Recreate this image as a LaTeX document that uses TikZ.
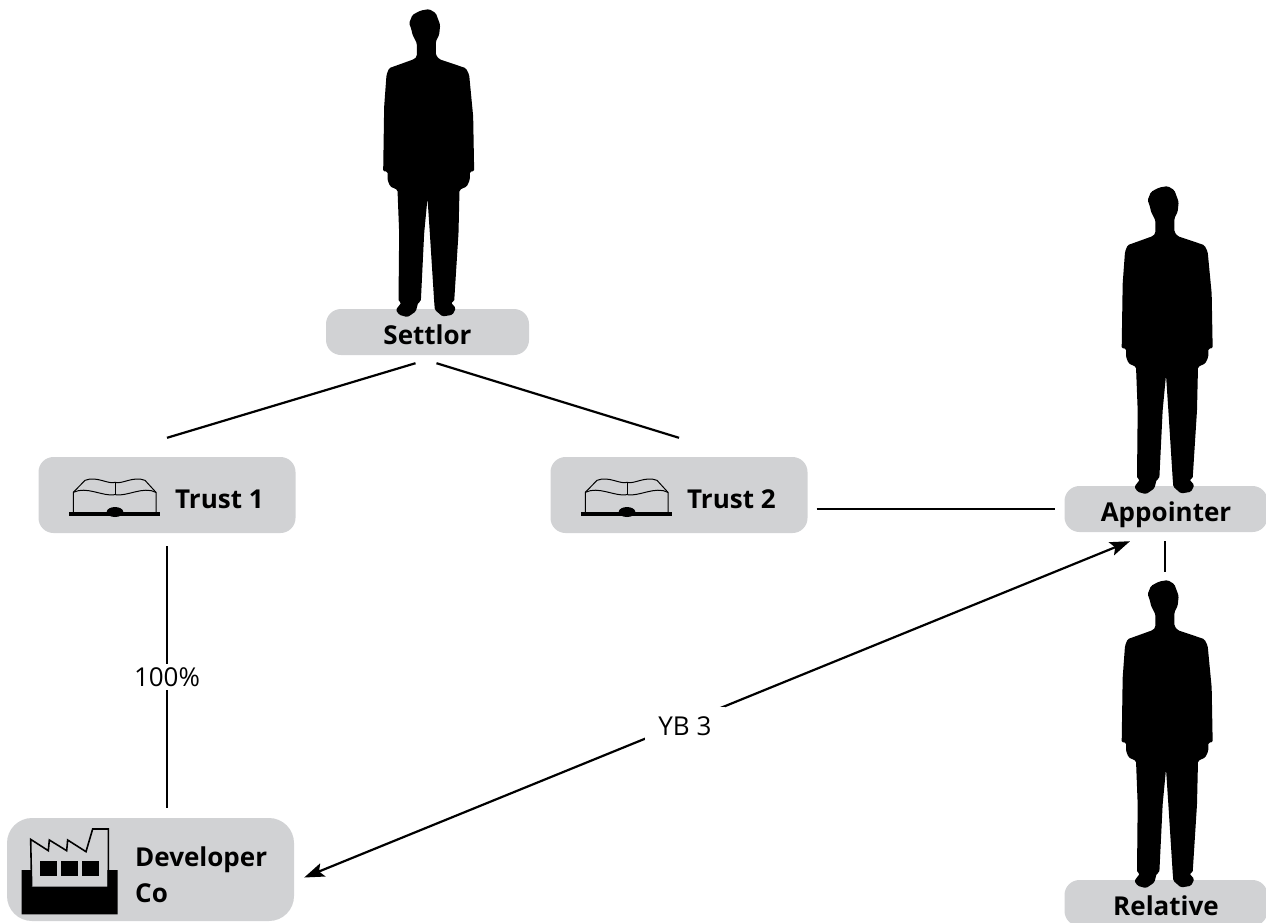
\documentclass[tikz,border=0pt]{standalone}
\usepackage{fontspec}
\setmainfont{Open Sans}
\usetikzlibrary{arrows.meta}
\definecolor{tagfill}{RGB}{209,210,212}
\tikzstyle{tag} = [fill=tagfill, rounded corners=15pt, inner sep=0pt, minimum width=203pt, minimum height=46pt, text height=24pt, text depth=0pt, font={\fontsize{26}{30}\selectfont\bfseries}]
\tikzstyle{bigtag} = [tag, minimum width=257pt, minimum height=76pt]
\tikzstyle{tagtext} = [inner sep=0pt, anchor=west, align=left, font={\fontsize{26}{36}\selectfont\bfseries}]
\tikzstyle{link} = [draw=black, line width=2.2pt]
\tikzstyle{note} = [fill=white, inner sep=3pt, font={\fontsize{26}{30}\selectfont}]
\tikzset{
  person/.pic={
    \fill[shift={(-200,-927)}, rounded corners=1.5pt] (168,170) -- (160,178) -- (85,205) -- (77,225) -- (70,320) -- (67,515)
      -- (80,515) -- (80,540) -- (88,560) -- (110,570) -- (115,700) -- (113,905) -- (122,908) -- (105,930) -- (115,945)
      -- (140,952) -- (165,935) -- (172,908) -- (180,905) -- (190,700) -- (200,595) -- (207,700) -- (220,905) -- (222,930)
      -- (245,950) -- (275,945) -- (285,925) -- (270,908) -- (280,905) -- (293,700) -- (296,570) -- (318,560) -- (327,540)
      -- (327,515) -- (340,515) -- (337,350) -- (325,225) -- (315,205) -- (235,178) -- (225,165) -- (225,125) -- (235,105)
      -- (238,75) -- (225,40) -- (205,28) -- (180,32) -- (155,45) -- (145,70) -- (152,90) -- (155,105) -- (168,130) -- cycle;
  },
  book/.pic={
    \begin{scope}[shift={(-255,-145)}, line width=1pt]
      \draw (130,188) -- (130,128) -- (165,92) .. controls (200,78) and (235,105) .. (255,98)
        .. controls (275,105) and (310,78) .. (345,92) -- (378,128) -- (378,188);
      \draw (130,128) .. controls (170,108) and (220,142) .. (255,135) .. controls (290,142) and (340,108) .. (378,128);
      \draw (255,98) -- (255,135);
      \fill (118,188) rectangle (390,198);
      \fill (255,187) ellipse (25 and 15);
    \end{scope}
  },
  factory/.pic={
    \fill (65,180) -- (95,180) -- (95,230) -- (322,230) -- (322,180) -- (353,180) -- (353,313) -- (65,313) -- cycle;
    \draw[line width=1.6pt] (95,230) -- (92,88) -- (145,122) -- (148,90) -- (200,122) -- (203,90) -- (258,125)
      -- (278,57) -- (325,57) -- (325,230);
    \fill (120,152) rectangle (170,198);
    \fill (183,152) rectangle (233,198);
    \fill (247,152) rectangle (297,198);
  }
}
\begin{document}
\begin{tikzpicture}[x=1pt,y=-1pt]
  \useasboundingbox (0,0) rectangle (1266,922);
  \node[tag](settlor) at (427.5,332){Settlor};
  \node[bigtag](trust1) at (167,495){};
  \node[bigtag](trust2) at (679,495){};
  \node[tag](appointer) at (1166,509){Appointer};
  \node[tag](relative) at (1166,903){Relative};
  \node[bigtag,minimum width=287pt,minimum height=103pt,rounded corners=25pt](developer) at (150.5,869.5){};
  \node[tagtext](trust1text) at (175,499){Trust 1};
  \node[tagtext](trust2text) at (687,499){Trust 2};
  \node[tagtext](developertext) at (135,875){Developer\\Co};
  \pic[scale=1/3] at (115,498) {book};
  \pic[scale=1/3] at (627,498) {book};
  \pic[scale=1/3] at (0,810) {factory};
  \pic[scale=1/3] at (settlor.north) {person};
  \pic[scale=1/3] at (appointer.north) {person};
  \pic[scale=1/3] at (relative.north) {person};
  \coordinate (relativehead) at (1165,572);
  \draw[link]([xshift=-12pt,yshift=-8pt]settlor.south)--([yshift=19pt]trust1.north);
  \draw[link]([xshift=9pt,yshift=-8pt]settlor.south)--([yshift=19pt]trust2.north);
  \draw[link]([yshift=-13pt]trust1.south)--node[note]{100\%}([yshift=10pt]trust1.south |- developer.north);
  \draw[link]([xshift=9pt]trust2.east |- appointer.west)--([xshift=-9pt]appointer.west);
  \draw[link]([yshift=-9pt]appointer.south -| relativehead)--(relativehead);
  \draw[link,{Stealth[length=20pt,width=14pt,inset=4pt]}-{Stealth[length=20pt,width=14pt,inset=4pt]}]([xshift=10pt,yshift=-8pt]developer.east)--node[note,pos=.461,yshift=-3.4pt,minimum width=80pt,minimum height=37pt]{YB 3}([xshift=-36pt,yshift=-9pt]appointer.south);
\end{tikzpicture}
\end{document}
